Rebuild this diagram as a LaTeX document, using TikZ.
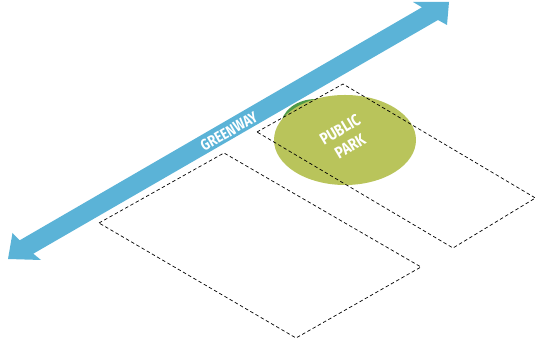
\documentclass[tikz,border=0pt]{standalone}
\usepackage{fontspec}
\newfontfamily\mapfont[FakeStretch=0.82]{Fira Sans}
\definecolor{waycolor}{HTML}{5BB3D7}
\definecolor{parkcolor}{HTML}{B9C45B}
\definecolor{treecolor}{HTML}{4E9A47}
\begin{document}
\begin{tikzpicture}[x=1pt,y=1pt,
  parcel/.style={draw=black,line width=0.7pt,dash pattern=on 3.5pt off 2.5pt},
  greenway/.style={fill=waycolor,draw=none},
  maplabel/.style={text=white,font=\mapfont\bfseries,inner sep=0pt,align=center}]
\useasboundingbox (0,0) rectangle (536,344);
% park
\fill[treecolor] (316,218) ellipse [x radius=35,y radius=27];
\fill[parkcolor] (345,204) ellipse [x radius=71,y radius=45];
% parcels
\coordinate (a1) at (99,121);
\coordinate (a2) at (224,191);
\coordinate (a3) at (421,77);
\coordinate (a4) at (296,6);
\coordinate (b1) at (257,212);
\coordinate (b2) at (343,260);
\coordinate (b3) at (535.4,146);
\coordinate (b4) at (453,96);
\draw[parcel] (a1) -- (a2) -- (a3) -- (a4) -- cycle;
\draw[parcel] (b1) -- (b2) -- (b3) -- (b4) -- cycle;
% greenway arrow
\fill[greenway] (8,85) -- (12.5,111) -- (19.7,103.7) -- (422,336.7) -- (413,342)
  -- (449,342) -- (447,319) -- (438,324) -- (33.3,90.3) -- (41,84) -- cycle;
\node[maplabel,font=\mapfont\bfseries\fontsize{15.5}{16}\selectfont,rotate=30] (way) at (229,212.5) {GREENWAY};
\node[maplabel,font=\mapfont\bfseries\fontsize{16.5}{19.5}\selectfont,rotate=31] (park) at (345,206) {PUBLIC\\PARK};
\end{tikzpicture}
\end{document}
